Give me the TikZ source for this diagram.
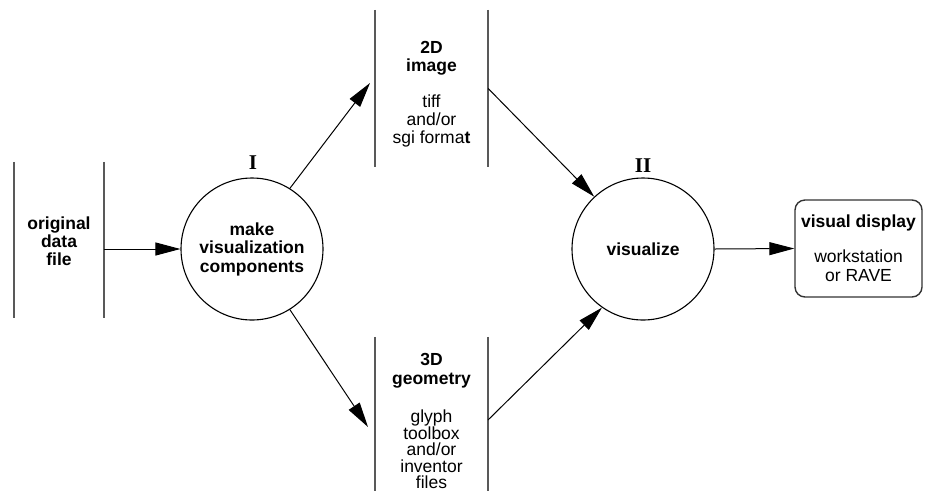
\documentclass[tikz,border=0pt]{standalone}
\usepackage{fontspec}
\setmainfont{Liberation Sans}
\newfontfamily\romfont{Liberation Serif}
\usetikzlibrary{arrows.meta}
\begin{document}
\begin{tikzpicture}[x=1pt,y=-1pt,
  storebox/.style={minimum width=113pt, minimum height=157pt, inner sep=0pt},
  storeline/.style={draw=black!65, line width=1.8pt},
  proc/.style={circle, draw=black, line width=1.1pt, minimum size=142pt, inner sep=0pt, align=center, font=\fontsize{17.5}{18.5}\selectfont\bfseries},
  lbl/.style={align=center, inner sep=0pt, font=\fontsize{17.5}{18}\selectfont},
  disp/.style={draw=black!80, line width=1.4pt, rounded corners=10pt, minimum width=127pt, minimum height=97pt, align=center, inner sep=0pt, font=\fontsize{17.5}{19}\selectfont},
  flow/.style={draw=black, line width=1pt, -{Triangle[length=25pt,width=13pt]}},
  num/.style={inner sep=0pt, font=\romfont\bfseries\fontsize{21}{21}\selectfont}
]
\useasboundingbox (0,0) rectangle (925,491);

% stores
\node[storebox, minimum width=90pt, minimum height=156pt] (s1) at (59,240) {};
\node[lbl, font=\fontsize{17.5}{18}\selectfont\bfseries] (t1) at (59,241) {original\\data\\file};
\draw[storeline] (s1.north west) -- (s1.south west);
\draw[storeline] (s1.north east) -- (s1.south east);

\node[storebox] (s2) at (431.5,88.5) {};
\node[lbl] (t2) at (431.5,94) {\textbf{2D}\\\textbf{image}\\[18pt]tiff\\and/or\\sgi forma\textbf{t}};
\draw[storeline] (s2.north west) -- (s2.south west);
\draw[storeline] (s2.north east) -- (s2.south east);

\node[storebox, minimum height=154pt] (s3) at (431.5,414) {};
\node[lbl, font=\fontsize{17.5}{16.5}\selectfont] (t3) at (431.5,421) {\textbf{3D}\\[2pt]\textbf{geometry}\\[22pt]glyph\\toolbox\\and/or\\inventor\\files};
\draw[storeline] (s3.north west) -- (s3.south west);
\draw[storeline] (s3.north east) -- (s3.south east);

% processes
\node[proc] (c1) at (252,249) {make\\visualization\\components};
\node[num] (n1) at (253,163) {I};
\node[proc] (c2) at (643,249) {visualize};
\node[num] (n2) at (643,166) {II};

% display
\node[disp] (d) at (858.5,248.5) {\textbf{visual display}\\[16pt]workstation\\or RAVE};

% connectors
\coordinate (a2) at (370,83);
\coordinate (a3) at (368,427);
\coordinate (b3) at (488,420);
\draw[flow] (s1.east |- c1.west) -- (c1.west);
\draw[flow] (c1.58) -- (a2);
\draw[flow] (c1.-58) -- (a3);
\draw[flow] (s2.east) -- (c2.133);
\draw[flow] (b3) -- (c2.-125);
\draw[flow] (c2.east) -- (d.west);
\end{tikzpicture}
\end{document}
